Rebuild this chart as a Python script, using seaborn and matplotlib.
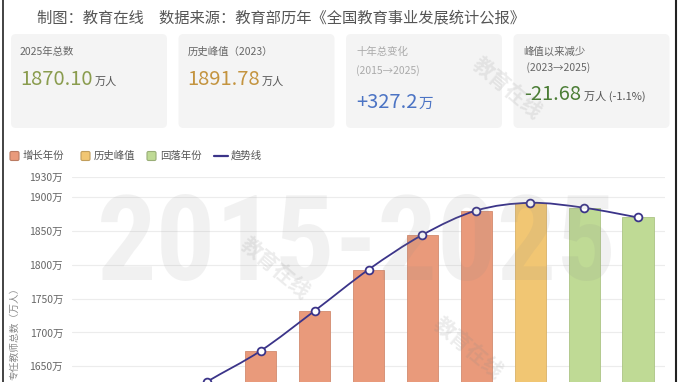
import numpy as np
import pandas as pd
import matplotlib
matplotlib.use("Agg")
import matplotlib.pyplot as plt
import seaborn as sns
from matplotlib.path import Path
from matplotlib.patches import PathPatch, FancyBboxPatch

# ---------------- data ----------------
years = ["2015", "2016", "2017", "2018", "2019", "2020", "2021", "2022", "2023", "2024", "2025"]
teachers = [1542.90, 1578.20, 1627.00, 1672.90, 1732.00, 1793.00, 1844.40, 1880.40, 1891.78, 1884.50, 1870.10]
status = ["增长年份"] * 8 + ["历史峰值"] + ["回落年份"] * 2
legend_labels = ["增长年份", "历史峰值", "回落年份", "趋势线"]
y_ticks = [1650, 1700, 1750, 1800, 1850, 1900, 1930]
tick_suffix = "万"
y_label = "专任教师总数（万人）"

title_text = "制图：教育在线　数据来源：教育部历年《全国教育事业发展统计公报》"
card_titles = ["2025年总数", "历史峰值（2023）", "十年总变化", "峰值以来减少"]
card_subtitles = ["", "", "(2015→2025)", " (2023→2025)"]
card_values = ["1870.10", "1891.78", "+327.2", "-21.68"]
card_units = ["万人", "万人", "万", "万人 (-1.1%)"]
watermark = "2015-2025"
brand = "教育在线"

# ---------------- style ----------------
sns.set_style("white")
plt.rcParams["font.family"] = ["Noto Sans CJK SC", "DejaVu Sans"]

bar_colors = {"增长年份": "#E99A7B", "历史峰值": "#F1C673", "回落年份": "#BFDA95"}
line_color = "#3B3489"

W, H = 680, 382
fig = plt.figure(figsize=(W / 100, H / 100), dpi=100)
fig.patch.set_facecolor("white")

# main chart axes (extends below the visible figure)
ymin, ymax = 1500, 1930
px_per_unit = 33.8 / 50
top_px = 177
bot_px = top_px + (ymax - ymin) * px_per_unit
left_px, right_px = 72, 665
ax = fig.add_axes([left_px / W, 1 - bot_px / H, (right_px - left_px) / W, (bot_px - top_px) / H])

df = pd.DataFrame({"year": years, "teachers": teachers, "status": status})
sns.barplot(data=df, x="year", y="teachers", hue="status", palette=bar_colors,
            dodge=False, width=0.58, saturation=1, legend=False, ax=ax, zorder=2)
for p in ax.patches:
    fc = p.get_facecolor()
    p.set_edgecolor(tuple(c * 0.9 for c in fc[:3]))
    p.set_linewidth(0.6)

# smooth trend line (Bezier through the data points)
xs = np.arange(len(years), dtype=float)
ys = np.array(teachers, dtype=float)
pts = np.column_stack([xs, ys])
n = len(pts)
verts = [pts[0]]
codes = [Path.MOVETO]
for i in range(n - 1):
    p0 = pts[max(i - 1, 0)]
    p1 = pts[i]
    p2 = pts[i + 1]
    p3 = pts[min(i + 2, n - 1)]
    c1 = p1 + (p2 - p0) / 6.0
    c2 = p2 - (p3 - p1) / 6.0
    verts += [c1, c2, p2]
    codes += [Path.CURVE4] * 3
ax.add_patch(PathPatch(Path(verts, codes), fill=False, edgecolor=line_color,
                       lw=1.3, zorder=3, transform=ax.transData))
ax.plot(xs, ys, linestyle="none", marker="o", markersize=5.6, markerfacecolor="white",
        markeredgecolor=line_color, markeredgewidth=1.3, zorder=4)

ax.set_xlim(-0.5, len(years) - 0.5)
ax.set_ylim(ymin, ymax)
ax.set_yticks(y_ticks)
ax.set_yticklabels([f"{v}{tick_suffix}" for v in y_ticks])
ax.tick_params(axis="y", length=0, pad=6.5, labelsize=7.5, labelcolor="#666666")
ax.tick_params(axis="x", length=0, labelbottom=False)
ax.set_xlabel("")
ax.set_ylabel("")
ax.yaxis.grid(True, color="#ececec", lw=0.8)
ax.xaxis.grid(False)
ax.set_axisbelow(True)
sns.despine(ax=ax, left=True, bottom=True)
ax.set_facecolor("none")

# ---------------- overlay (header, legend, watermark) ----------------
ov = fig.add_axes([0, 0, 1, 1], zorder=5)
ov.set_xlim(0, W)
ov.set_ylim(H, 0)
ov.axis("off")
ov.patch.set_alpha(0)

ov.text(37, 18, title_text, fontsize=11, color="#555555", va="center", ha="left")

card_lefts = [11, 178.5, 346, 513.5]
card_w = 156
value_colors = ["#8A9C4E", "#C4943F", "#4C74C4", "#4B7D35"]
for i, x0 in enumerate(card_lefts):
    ov.add_patch(FancyBboxPatch((x0, 34), card_w, 94,
                                boxstyle="round,pad=0,rounding_size=5",
                                fc="#f4f4f4", ec="none", zorder=1))

renderer = fig.canvas.get_renderer()

lab_col = ["#666666", "#666666", "#aaaaaa", "#666666"]
# card 1 & 2
for i in range(2):
    x = card_lefts[i] + 9
    ov.text(x, 52, card_titles[i], fontsize=7.5, color=lab_col[i], va="center", zorder=2)
    t = ov.text(x, 85, card_values[i], fontsize=14.5, color=value_colors[i], va="baseline", zorder=2)
    bb = t.get_window_extent(renderer)
    ov.text(bb.x1 + 2, 85, card_units[i], fontsize=8, color="#555555", va="baseline", zorder=2)
# card 3
x = card_lefts[2] + 10
ov.text(x, 52, card_titles[2], fontsize=7.5, color=lab_col[2], va="center", zorder=2)
ov.text(x, 71, card_subtitles[2], fontsize=7.5, color=lab_col[2], va="center", zorder=2)
t = ov.text(x, 108, card_values[2], fontsize=14.5, color=value_colors[2], va="baseline", zorder=2)
bb = t.get_window_extent(renderer)
ov.text(bb.x1 + 1, 108, card_units[2], fontsize=10.5, color=value_colors[2], va="baseline", zorder=2)
# card 4
x = card_lefts[3] + 10
ov.text(x, 52, card_titles[3], fontsize=7.5, color=lab_col[3], va="center", zorder=2)
ov.text(x + 1, 68, card_subtitles[3], fontsize=7.5, color=lab_col[3], va="center", zorder=2)
t = ov.text(x + 1, 100, card_values[3], fontsize=14.5, color=value_colors[3], va="baseline", zorder=2)
bb = t.get_window_extent(renderer)
ov.text(bb.x1 + 3, 100, card_units[3], fontsize=8, color="#555555", va="baseline", zorder=2)

# legend
leg_y = 156
sq_x = [10, 81, 147]
for i, lab in enumerate(legend_labels[:3]):
    c = bar_colors[lab]
    ov.add_patch(FancyBboxPatch((sq_x[i], leg_y - 4.5), 9, 9,
                                boxstyle="round,pad=0,rounding_size=1.5",
                                fc=c, ec=tuple(v * 0.8 for v in matplotlib.colors.to_rgb(c)), lw=0.8))
    ov.text(sq_x[i] + 13, leg_y, lab, fontsize=7.5, color="#555555", va="center")
ov.plot([214, 228], [leg_y, leg_y], color=line_color, lw=1.6)
ov.text(231, leg_y, legend_labels[3], fontsize=7.5, color="#555555", va="center")

# y label
ov.text(14, 283, y_label, rotation=90, ha="center", va="top", fontsize=7, color="#888888")

# big watermark
wm = ov.text(357, 280, watermark, fontsize=100, fontweight="bold", ha="center",
             va="baseline", color="#888888", alpha=0.11, zorder=6,
             family=["Liberation Sans Narrow", "Roboto Condensed", "DejaVu Sans"])
bb = wm.get_window_extent(renderer)
size = 100 * 520 / bb.width
size = min(size, 101)
wm.set_fontsize(size)

# brand watermarks
for (bx, by) in [(507, 88), (275, 268), (468, 348)]:
    ov.text(bx, by, brand, rotation=-40, ha="center", va="center", fontsize=15,
            fontweight="bold", color="#888888", alpha=0.16, zorder=6)

# frame lines
ov.plot([2.5, 2.5], [0, H], color="#222222", lw=1.2, zorder=7)
ov.plot([675.5, 675.5], [0, H], color="#222222", lw=1.5, zorder=7)

fig.savefig("out.png", dpi=100, facecolor="white")
